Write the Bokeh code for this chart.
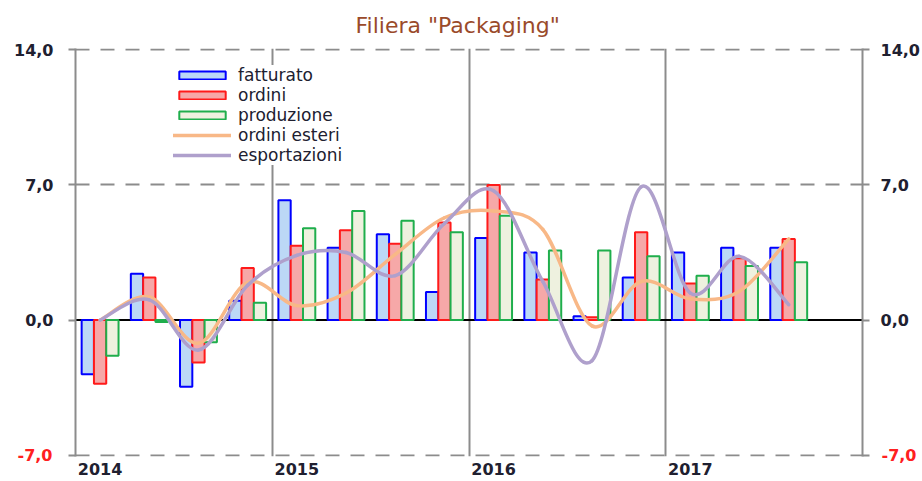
from bokeh.plotting import figure
from bokeh.models import (Range1d, LinearAxis, FixedTicker, Span, Legend, LegendItem,
                          ColumnDataSource)
from bokeh.embed import file_html
from bokeh.resources import INLINE

# ---------------- data (quarterly, Q1 2014 .. Q3 2017) ----------------
years = ["2014", "2015", "2016", "2017"]
quarters = ["I-14", "II-14", "III-14", "IV-14",
            "I-15", "II-15", "III-15", "IV-15",
            "I-16", "II-16", "III-16", "IV-16",
            "I-17", "II-17", "III-17"]
fatturato = [-2.8, 2.4, -3.45, 1.0, 6.2, 3.75, 4.45, 1.45, 4.25, 3.5, 0.2, 2.2, 3.5, 3.75, 3.75]
ordini = [-3.3, 2.2, -2.2, 2.7, 3.85, 4.65, 3.95, 5.05, 7.0, 2.1, 0.15, 4.55, 1.9, 3.2, 4.2]
produzione = [-1.85, -0.1, -1.15, 0.9, 4.75, 5.65, 5.15, 4.55, 5.4, 3.6, 3.6, 3.3, 2.3, 2.8, 3.0]
ordini_esteri = [0.0, 1.2, -1.2, 1.95, 0.75, 1.4, 3.4, 5.3, 5.65, 4.7, -0.3, 2.0, 1.1, 1.5, 4.2]
esportazioni = [0.0, 1.05, -1.55, 1.8, 3.35, 3.5, 2.3, 5.0, 6.7, 2.0, -2.1, 6.9, 1.4, 3.3, 0.8]
y_ticks = [-7, 0, 7, 14]
y_tick_labels = ["-7,0", "0,0", "7,0", "14,0"]
title_text = 'Filiera "Packaging"'

# ---------------- positions ----------------
start_year = int(years[0])
xq = [start_year + (i + 0.5) / 4 for i in range(len(quarters))]
bw = 0.25 / 4
pad = 0.06

FONT = "DejaVu Sans"
GRID = "#8c8c8c"
TXT = "#202030"
RED = "#ff2020"

p = figure(width=922, height=481, output_backend="svg", toolbar_location=None,
           x_range=Range1d(start_year, start_year + 4),
           y_range=Range1d(y_ticks[0] - pad, y_ticks[-1] + pad),
           min_border_left=75, min_border_right=60, min_border_top=48, min_border_bottom=25)
p.outline_line_color = None
p.background_fill_color = "white"

# title
p.title.text = title_text
p.title.align = "left"
p.title.offset = 280
p.title.text_font = FONT
p.title.text_font_size = "22px"
p.title.text_font_style = "normal"
p.title.text_color = "#9a4a2a"
p.title.standoff = 21

# grids
p.ygrid.ticker = FixedTicker(ticks=[t for t in y_ticks if t != 0])
p.ygrid.grid_line_color = GRID
p.ygrid.grid_line_width = 2
p.ygrid.grid_line_dash = "14 11"
p.xgrid.ticker = FixedTicker(ticks=[start_year + k for k in range(5)])
p.xgrid.grid_line_color = GRID
p.xgrid.grid_line_width = 2

# zero line
p.add_layout(Span(location=0, dimension="width", line_color="black", line_width=2, level="underlay"))


def style_axis(ax, tick_out, so, color, labels, line=True):
    ax.ticker = FixedTicker(ticks=y_ticks)
    ax.major_label_overrides = {t: l for t, l in zip(y_ticks, labels)}
    ax.axis_line_color = GRID if line else None
    ax.axis_line_width = 2
    ax.major_tick_line_color = GRID if line else None
    ax.major_tick_line_width = 2
    ax.major_tick_out = tick_out
    ax.major_tick_in = 0
    ax.minor_tick_line_color = None
    ax.major_label_standoff = so
    ax.major_label_text_font = FONT
    ax.major_label_text_font_size = "16px"
    ax.major_label_text_font_style = "bold"
    ax.major_label_text_color = color


red_labels = [(l if t == y_ticks[0] else "") for t, l in zip(y_ticks, y_tick_labels)]
dark_labels = [("" if t == y_ticks[0] else l) for t, l in zip(y_ticks, y_tick_labels)]

# inner axes: line, ticks and the red bottom label
yl = p.yaxis[0]
style_axis(yl, 7, 16, RED, red_labels)
yr = LinearAxis()
p.add_layout(yr, "right")
style_axis(yr, 7, 12, RED, red_labels)
# outer axes: dark labels pulled back next to the inner ones
yl2 = LinearAxis()
p.add_layout(yl2, "left")
style_axis(yl2, 0, -39, TXT, dark_labels, line=False)
yr2 = LinearAxis()
p.add_layout(yr2, "right")
style_axis(yr2, 0, -39, TXT, dark_labels, line=False)

xa = p.xaxis[0]
xa.ticker = FixedTicker(ticks=[int(y) + 0.125 for y in years])
xa.major_label_overrides = {int(y) + 0.125: y for y in years}
xa.axis_line_color = None
xa.major_tick_line_color = None
xa.major_tick_out = 0
xa.major_tick_in = 0
xa.minor_tick_line_color = None
xa.major_label_standoff = 6
xa.major_label_text_font = FONT
xa.major_label_text_font_size = "16px"
xa.major_label_text_font_style = "bold"
xa.major_label_text_color = TXT

# bars
r_f = p.vbar(x=[x - bw for x in xq], top=fatturato, width=bw, fill_color="#bcd8f6",
             line_color="#0000ff", line_width=2)
r_o = p.vbar(x=xq, top=ordini, width=bw, fill_color="#f6a8a8",
             line_color="#ff1a1a", line_width=2)
r_p = p.vbar(x=[x + bw for x in xq], top=produzione, width=bw, fill_color="#eef1df",
             line_color="#1fae4c", line_width=2)


def smooth(xs, ys):
    n = len(xs)
    d = dict(x0=[], y0=[], x1=[], y1=[], cx0=[], cy0=[], cx1=[], cy1=[])
    for i in range(n - 1):
        a = i - 1 if i > 0 else i
        b = i + 2 if i + 2 < n else i + 1
        d["x0"].append(xs[i]); d["y0"].append(ys[i])
        d["x1"].append(xs[i + 1]); d["y1"].append(ys[i + 1])
        d["cx0"].append(xs[i] + (xs[i + 1] - xs[a]) / 6)
        d["cy0"].append(ys[i] + (ys[i + 1] - ys[a]) / 6)
        d["cx1"].append(xs[i + 1] - (xs[b] - xs[i]) / 6)
        d["cy1"].append(ys[i + 1] - (ys[b] - ys[i]) / 6)
    return ColumnDataSource(d)


r_oe = p.bezier(x0="x0", y0="y0", x1="x1", y1="y1", cx0="cx0", cy0="cy0", cx1="cx1", cy1="cy1",
                source=smooth(xq, ordini_esteri), line_color="#f8b887", line_width=3.5,
                line_cap="round")
r_es = p.bezier(x0="x0", y0="y0", x1="x1", y1="y1", cx0="cx0", cy0="cy0", cx1="cx1", cy1="cy1",
                source=smooth(xq, esportazioni), line_color="#afa0cc", line_width=3.5,
                line_cap="round")

legend = Legend(items=[
    LegendItem(label="fatturato", renderers=[r_f]),
    LegendItem(label="ordini", renderers=[r_o]),
    LegendItem(label="produzione", renderers=[r_p]),
    LegendItem(label="ordini esteri", renderers=[r_oe]),
    LegendItem(label="esportazioni", renderers=[r_es]),
], location=(98, 291))
legend.glyph_width = 58
legend.glyph_height = 10
legend.label_height = 20
legend.label_standoff = 7
legend.spacing = 0
legend.padding = 0
legend.margin = 0
legend.border_line_color = None
legend.background_fill_color = "white"
legend.background_fill_alpha = 1
legend.label_text_font = FONT
legend.label_text_font_size = "17px"
legend.label_text_color = TXT
p.add_layout(legend, "center")

open("out.html", "w").write(file_html(p, INLINE))
